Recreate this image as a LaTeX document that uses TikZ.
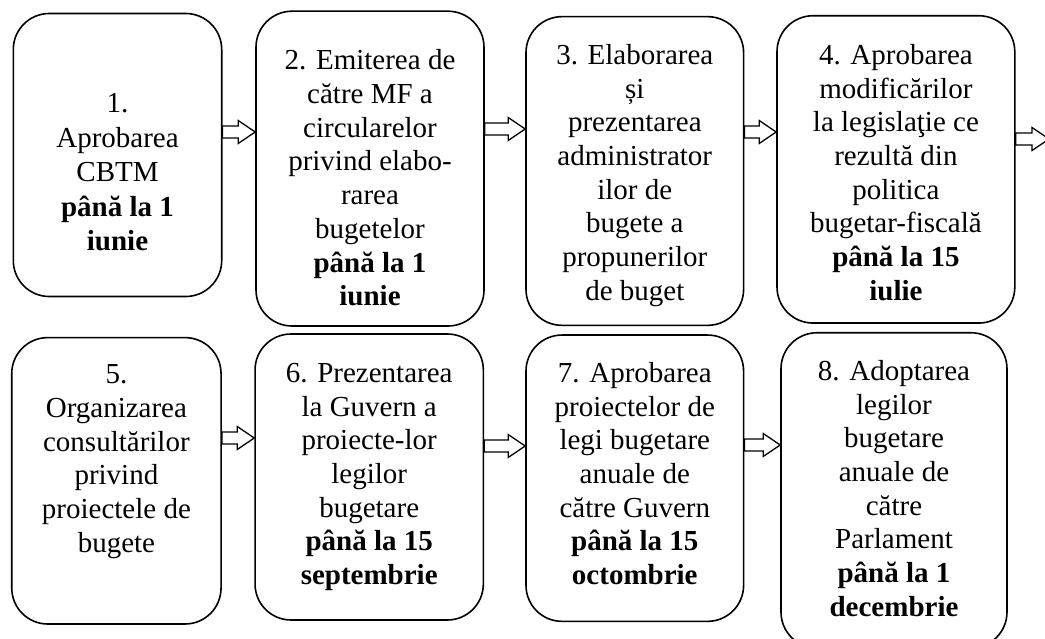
\documentclass[tikz,border=0pt]{standalone}
\usepackage{fontspec}
\setmainfont{Liberation Serif}
\usepackage{tikz}
\usetikzlibrary{calc, positioning}
\tikzset{%
  stage_box/.style={%
    rectangle,%
    draw=black,%
    line width=1.6pt,%
    rounded corners=36pt,%
    inner sep=0pt,%
  },
  stage_text/.style={%
    align=center,%
    anchor=north,%
    inner sep=0pt,%
    font={\fontsize{29}{33.7}\selectfont},%
  },
  block_arrow/.style={%
    draw=black,%
    fill=white,%
    line width=1.3pt,%
    line join=miter,%
    to path={%
      let \p1=(\tikztostart), \p2=(\tikztotarget) in
      (\x1,\y1+6pt) -- (\x2-17pt,\y1+6pt) -- (\x2-17pt,\y1+11.5pt)
      -- (\x2,\y1) -- (\x2-17pt,\y1-11.5pt) -- (\x2-17pt,\y1-6pt)
      -- (\x1,\y1-6pt) -- cycle%
    },
  },
}

\begin{document}
\begin{tikzpicture}[x=1pt, y=-1pt]
    \clip (0,0) rectangle (1045,639);

    % first row
    \node [stage_box, minimum width=208.4, minimum height=283.0] (b1) at (117.5,155.0) {};
    \node [stage_box, minimum width=228.0, minimum height=314.8] (b2) at (370.0,168.6) {};
    \node [stage_box, minimum width=217.6, minimum height=308.7] (b3) at (634.8,171.0) {};
    \node [stage_box, minimum width=237.8, minimum height=307.3] (b4) at (895.9,169.4) {};
    % second row
    \node [stage_box, minimum width=209.3, minimum height=286.4] (b5) at (116.4,480.8) {};
    \node [stage_box, minimum width=228.3, minimum height=286.0] (b6) at (369.2,477.0) {};
    \node [stage_box, minimum width=217.6, minimum height=286.3] (b7) at (634.8,478.2) {};
    \node [stage_box, minimum width=226.0, minimum height=315.3] (b8) at (894.0,490.4) {};

    \node [stage_text, font={\fontsize{29}{34.5}\selectfont}] (t1) at (b1 |- 0,93.5)
      {1.\\Aprobarea\\CBTM\\\textbf{până la 1}\\\textbf{iunie}};
    \node [stage_text] (t2) at (b2 |- 0,49.5)
      {2. Emiterea de\\către MF a\\circularelor\\privind elabo-\\rarea\\bugetelor\\\textbf{până la 1}\\\textbf{iunie}};
    \node [stage_text] (t3) at (b3 |- 0,44.0)
      {3. Elaborarea\\și\\prezentarea\\administrator\\ilor de\\bugete a\\propunerilor\\de buget};
    \node [stage_text] (t4) at (b4 |- 0,44.0)
      {4. Aprobarea\\modificărilor\\la legislaţie ce\\rezultă din\\politica\\bugetar-fiscală\\\textbf{până la 15}\\\textbf{iulie}};
    \node [stage_text] (t5) at (b5 |- 0,364.5)
      {5.\\Organizarea\\consultărilor\\privind\\proiectele de\\bugete};
    \node [stage_text] (t6) at (b6 |- 0,363.0)
      {6. Prezentarea\\la Guvern a\\proiecte-lor\\legilor\\bugetare\\\textbf{până la 15}\\\textbf{septembrie}};
    \node [stage_text] (t7) at (b7 |- 0,362.0)
      {7. Aprobarea\\proiectelor de\\legi bugetare\\anuale de\\către Guvern\\\textbf{până la 15}\\\textbf{octombrie}};
    \node [stage_text] (t8) at (b8 |- 0,360.0)
      {8. Adoptarea\\legilor\\bugetare\\anuale de\\către\\Parlament\\\textbf{până la 1}\\\textbf{decembrie}};

    \coordinate (out) at (1049,139);

    \draw [block_arrow] (b1.east |- 0,132) to (b2.west |- 0,132);
    \draw [block_arrow] (b2.east |- 0,129) to (b3.west |- 0,129);
    \draw [block_arrow] (b3.east |- 0,132) to (b4.west |- 0,132);
    \draw [block_arrow] (b4.east |- out) to (out);
    \draw [block_arrow] (b5.east |- 0,438) to (b6.west |- 0,438);
    \draw [block_arrow] (b6.east |- 0,446) to (b7.west |- 0,446);
    \draw [block_arrow] (b7.east |- 0,445) to (b8.west |- 0,445);
  \end{tikzpicture}
\end{document}
